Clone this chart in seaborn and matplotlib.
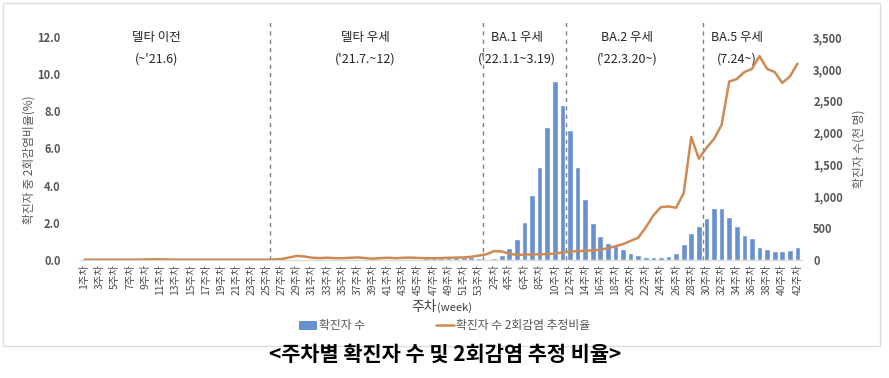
import numpy as np
import pandas as pd
import matplotlib
matplotlib.use("Agg")
import matplotlib.pyplot as plt
import seaborn as sns
from matplotlib.patches import Patch, Rectangle
from matplotlib.lines import Line2D

sns.set_style("white")
plt.rcParams['font.family'] = ['Noto Sans CJK KR', 'DejaVu Sans']

# ---- data ----
weeks_2021 = list(range(1, 54))   # 2021: week 1..53
weeks_2022 = list(range(1, 43))   # 2022: week 1..42

# bars (left-axis units as drawn)
cases_2021 = [0.02, 0.02, 0.02, 0.02, 0.02, 0.02, 0.02, 0.02, 0.02, 0.02,
              0.02, 0.02, 0.02, 0.02, 0.02, 0.02, 0.02, 0.03, 0.03, 0.03,
              0.02, 0.02, 0.02, 0.02, 0.02, 0.02, 0.03, 0.04, 0.04, 0.05,
              0.05, 0.05, 0.04, 0.04, 0.04, 0.04, 0.04, 0.05, 0.04, 0.04,
              0.05, 0.05, 0.06, 0.07, 0.08, 0.09, 0.10, 0.12, 0.14, 0.16,
              0.17, 0.14, 0.10]
cases_2022 = [0.08, 0.10, 0.29, 0.63, 1.13, 2.06, 3.50, 4.99, 7.16, 9.63,
              8.34, 7.00, 4.99, 3.28, 2.00, 1.30, 0.90, 0.76, 0.57, 0.40,
              0.25, 0.17, 0.15, 0.17, 0.20, 0.39, 0.84, 1.43, 1.83, 2.28,
              2.78, 2.78, 2.33, 1.81, 1.33, 1.18, 0.68, 0.61, 0.48, 0.50,
              0.55, 0.72]

# line (right-axis units as drawn)
ratio_2021 = [5, 5, 5, 5, 5, 5, 5, 5, 8, 10,
              10, 8, 5, 5, 5, 5, 5, 5, 5, 5,
              5, 5, 5, 5, 5, 8, 15, 40, 65, 55,
              35, 30, 35, 30, 28, 35, 40, 30, 20, 30,
              35, 28, 35, 38, 32, 30, 28, 30, 35, 38,
              40, 50, 70]
ratio_2022 = [90, 140, 135, 100, 80, 85, 88, 90, 92, 100,
              120, 130, 140, 145, 150, 162, 185, 215, 250, 300,
              350, 510, 700, 830, 840, 820, 1050, 1930, 1590, 1760,
              1900, 2120, 2800, 2840, 2950, 3000, 3200, 3000, 2950, 2780,
              2880, 3080]

periods = ["델타 이전", "델타 우세", "BA.1 우세", "BA.2 우세", "BA.5 우세"]
period_dates = ["(~'21.6)", "('21.7.~12)", "('22.1.1~3.19)", "('22.3.20~)", "(7.24~)"]
boundaries = [24.5, 52.5, 63.5, 81.5]
period_centers = [9.5, 37.0, 57.0, 71.5, 86.0]

labels = [f"{w}주차" for w in weeks_2021] + [f"{w}주차" for w in weeks_2022]
df = pd.DataFrame({
    "idx": np.arange(len(labels)),
    "cases": cases_2021 + cases_2022,
    "ratio": ratio_2021 + ratio_2022,
})

bar_color = "#6690d0"
line_color = "#cd8a52"

fig = plt.figure(figsize=(8.89, 3.78), dpi=100)
ax = fig.add_axes([80/889, 1-260/378, 722/889, 223/378])
ax2 = ax.twinx()

sns.barplot(data=df, x="idx", y="cases", native_scale=True, color=bar_color,
            width=0.75, ax=ax, saturation=1, zorder=2)
sns.lineplot(data=df, x="idx", y="ratio", color=line_color, linewidth=1.8,
             ax=ax2, zorder=3)

ax.set_xlim(-0.6, len(labels) - 0.4)
ax.set_ylim(0, 12)
ax2.set_ylim(0, 3500)

ax.set_yticks(np.arange(0, 12.1, 2.0))
ax.set_yticklabels([f"{v:.1f}" for v in np.arange(0, 12.1, 2.0)],
                   fontsize=8, color="#555555", fontweight="bold")
ax2.set_yticks(np.arange(0, 3501, 500))
ax2.set_yticklabels([f"{int(v):,}" for v in np.arange(0, 3501, 500)],
                    fontsize=8, color="#555555", fontweight="bold")

tick_pos = list(range(0, len(labels), 2))
ax.set_xticks(tick_pos)
ax.set_xticklabels([labels[i] for i in tick_pos], rotation=90, fontsize=7.5,
                   color="#4d4d4d")
ax.tick_params(axis="x", length=0, pad=3)
ax.tick_params(axis="y", length=0, pad=14)
ax2.tick_params(axis="y", length=0, pad=8)

for a in (ax, ax2):
    for s in ("top", "left", "right"):
        a.spines[s].set_visible(False)
    a.spines["bottom"].set_color("#d9d9d9")
ax.set_xlabel("")
ax2.set_xlabel("")

ax.set_ylabel("확진자 중 2회감염비율(%)", fontsize=8.5, color="#595959")
ax2.set_ylabel("확진자 수(천 명)", fontsize=8.5, color="#595959", rotation=90)
ax.yaxis.set_label_coords(-0.062, 0.45)
ax2.yaxis.set_label_coords(1.07, 0.5)

for b in boundaries:
    ax.axvline(b, ymin=0, ymax=1.08, color="#7f7f7f", linestyle=(0, (3, 3)),
               linewidth=1.0, clip_on=False, zorder=4)

for c, p, d in zip(period_centers, periods, period_dates):
    ax.text(c, 11.95, p, ha="center", va="center", fontsize=9, color="#262626")
    ax.text(c, 10.8, d, ha="center", va="center", fontsize=9, color="#262626")

fig.text(437/889, 1-307/378, "주차", fontsize=10, color="#404040",
         ha="right", va="center")
fig.text(437/889, 1-308/378, "(week)", fontsize=8, color="#404040",
         ha="left", va="center")

handles = [Patch(facecolor=bar_color, edgecolor="none"),
           Line2D([0], [0], color=line_color, linewidth=1.8)]
fig.legend(handles, ["확진자 수", "확진자 수 2회감염 추정비율"],
           loc="center", bbox_to_anchor=(445/889, 1-326/378), ncol=2,
           frameon=False, fontsize=8.5, columnspacing=6.0, handlelength=1.5,
           handletextpad=0.2, labelcolor="#555555")

fig.patches.append(Rectangle((3/889, 1-346/378), 877/889, 343/378,
                             transform=fig.transFigure, fill=False,
                             edgecolor="#dcdcdc", linewidth=1.0))

fig.text(445/889, 1-354/378, "<주차별 확진자 수 및 2회감염 추정 비율>",
         fontsize=15, fontweight="bold", ha="center", va="center",
         color="#000000")

fig.savefig("out.png", dpi=100)
